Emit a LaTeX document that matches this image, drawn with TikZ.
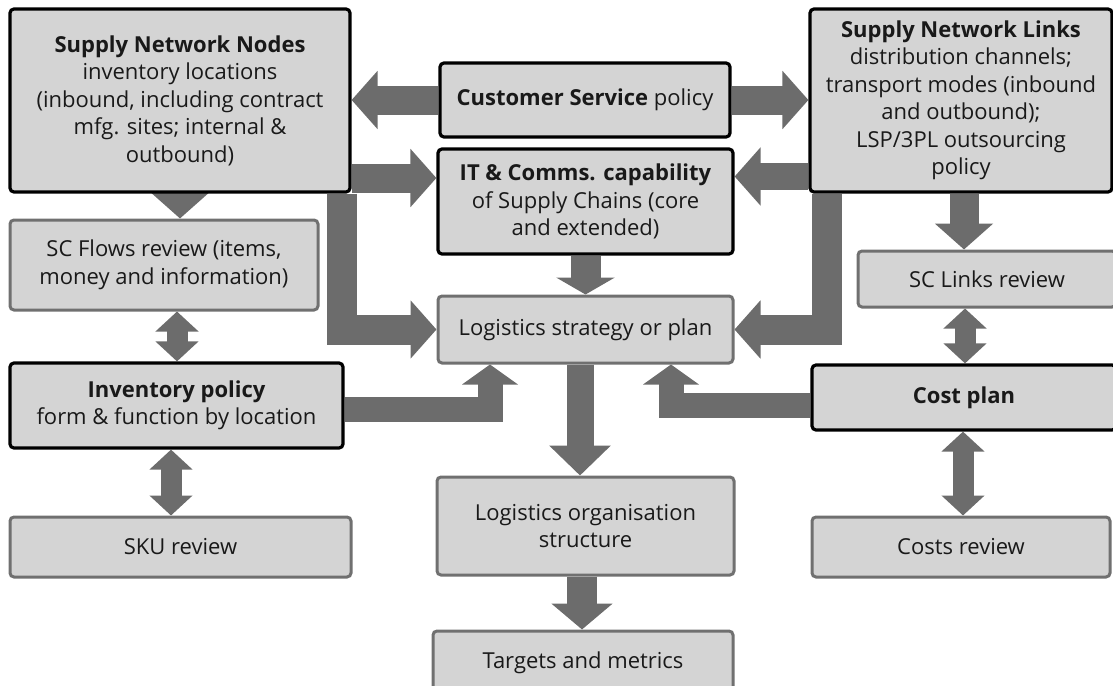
\documentclass[tikz,border=0pt]{standalone}
\usepackage{fontspec}
\setmainfont{Open Sans}
\usetikzlibrary{arrows.meta}
\definecolor{boxfill}{RGB}{212,212,212}
\definecolor{agray}{RGB}{108,108,108}
\definecolor{bgray}{RGB}{112,112,112}
\pgfdeclarelayer{bg}
\pgfsetlayers{bg,main}
\tikzset{
  base/.style={rectangle, rounded corners=4pt, fill=boxfill, align=center, inner sep=2pt,
    font=\fontsize{22}{27.5}\selectfont, text=black!90},
  thickbox/.style={base, draw=black, line width=3.2pt},
  thinbox/.style={base, draw=bgray, line width=3pt},
  bigarr/.style={draw=agray, line width=#1, line join=miter, -{Triangle[width=57pt,length=26pt]}},
  bigarr/.default=29pt,
  midarr/.style={draw=agray, line width=25pt, line join=miter, -{Triangle[width=55pt,length=20pt]}},
  dblarr/.style={draw=agray, line width=21pt, {Triangle[width=42pt,length=20pt]}-{Triangle[width=42pt,length=20pt]}},
}
\begin{document}
\begin{tikzpicture}[x=1pt,y=-1pt]
\useasboundingbox (0,0) rectangle (1113,685);
\clip (0,0) rectangle (1113,685);
% nodes
\node[thickbox, minimum width=340pt, minimum height=183pt] (SNN) at (180,100.5)
  {\textbf{Supply Network Nodes}\\inventory locations\\(inbound, including contract\\mfg. sites; internal \&\\outbound)};
\node[thinbox, minimum width=308pt, minimum height=90pt] (SCF) at (164,265)
  {SC Flows review (items,\\money and information)};
\node[thickbox, minimum width=333pt, minimum height=85pt] (INV) at (176.5,405.5)
  {\textbf{Inventory policy}\\form \& function by location};
\node[thinbox, minimum width=341pt, minimum height=60pt] (SKU) at (180.5,547)
  {SKU review};
\node[thickbox, minimum width=290pt, minimum height=74pt] (CS) at (585,100)
  {\textbf{Customer Service} policy};
\node[thickbox, minimum width=295pt, minimum height=105pt] (IT) at (585.5,201.5)
  {\textbf{IT \& Comms. capability}\\of Supply Chains (core\\and extended)};
\node[thinbox, minimum width=295pt, minimum height=67pt] (LS) at (585.5,329.5)
  {Logistics strategy or plan};
\node[thinbox, minimum width=297pt, minimum height=98pt] (LO) at (585.5,526)
  {Logistics organisation\\structure};
\node[thinbox, minimum width=300pt, minimum height=64pt] (TM) at (583,663)
  {Targets and metrics};
\node[thickbox, minimum width=302pt, minimum height=183pt] (SNL) at (961,100.5)
  {\textbf{Supply Network Links}\\distribution channels;\\transport modes (inbound\\and outbound);\\LSP/3PL outsourcing\\policy};
\node[thinbox, minimum width=258pt, minimum height=56pt] (SCL) at (987,279)
  {SC Links review};
\node[thickbox, minimum width=304pt, minimum height=65pt] (CP) at (964,397.5)
  {\textbf{Cost plan}};
\node[thinbox, minimum width=298pt, minimum height=60pt] (CR) at (961,547)
  {Costs review};
% connectors
\begin{pgfonlayer}{bg}
  \draw[bigarr] (CS.west) -- (SNN.east |- CS.west);
  \draw[bigarr] (CS.east) -- (SNL.west |- CS.east);
  \draw[bigarr] (SNN.east |- 0,178) -- (IT.west |- 0,178);
  \draw[bigarr=30pt] (SNN.south -| 342,0) |- (LS.west);
  \draw[bigarr=27pt] (SNL.west |- 0,176.5) -- (IT.east |- 0,176.5);
  \draw[bigarr=30pt] (SNL.south -| 827,0) |- (LS.east);
  \draw[agray, line width=30pt, -{Triangle[width=58pt,length=17pt]}] (IT.south) -- (LS.north);
  \draw[bigarr=30pt] (SNN.south -| 180,0) -- (SCF.north -| 180,0);
  \draw[bigarr=29pt] (SNL.south -| 964,0) -- (SCL.north -| 964,0);
  \draw[midarr] (INV.east |- 0,409) -| (LS.south -| 490,0);
  \draw[midarr] (CP.west |- 0,405.5) -| (LS.south -| 671,0);
  \draw[agray, line width=27pt, -{Triangle[width=60pt,length=30pt]}] (LS.south -| 580,0) -- (LO.north -| 580,0);
  \draw[agray, line width=30pt, -{Triangle[width=60pt,length=26pt]}] (LO.south -| 582,0) -- (TM.north -| 582,0);
  \draw[dblarr] (SCF.south -| 177,0) -- (INV.north -| 177,0);
  \draw[dblarr] (INV.south -| 171,0) -- (SKU.north -| 171,0);
  \draw[dblarr] (SCL.south -| 965,0) -- (CP.north -| 965,0);
  \draw[dblarr] (CP.south -| 963,0) -- (CR.north -| 963,0);
\end{pgfonlayer}
\end{tikzpicture}
\end{document}
